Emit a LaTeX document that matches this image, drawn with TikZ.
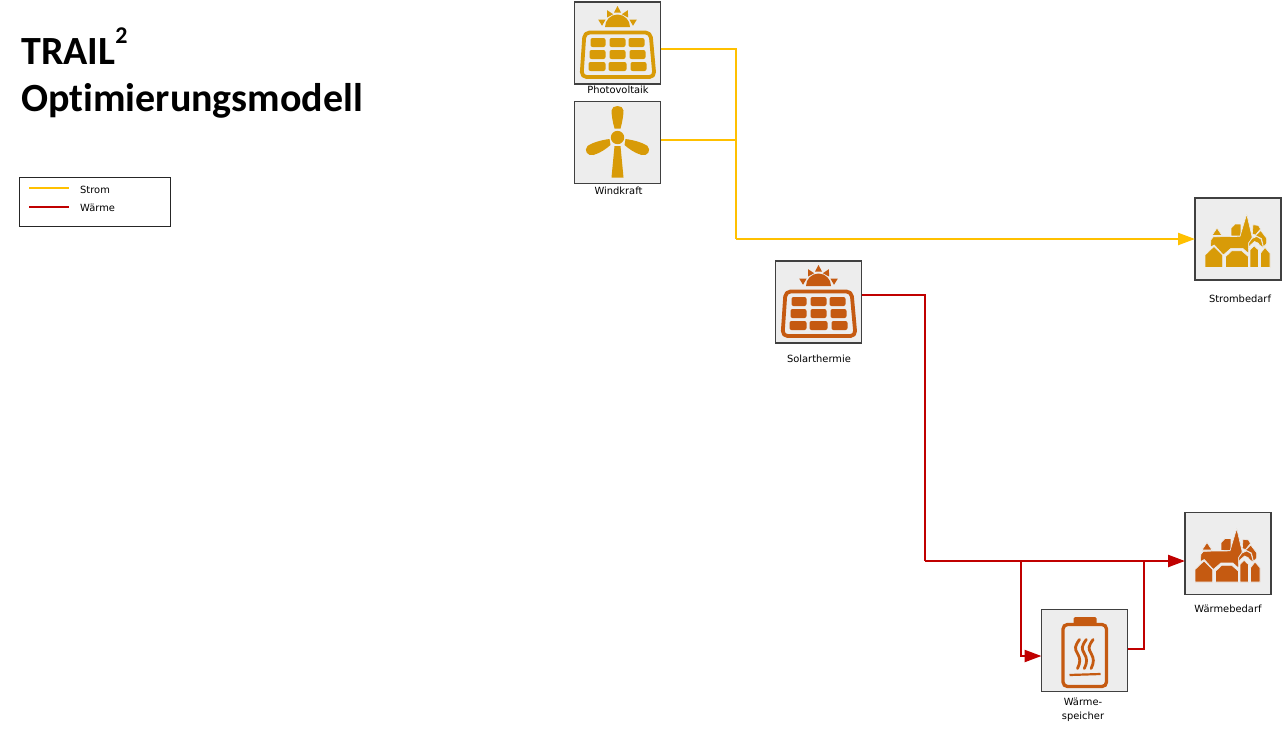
\documentclass[tikz,border=0pt]{standalone}
\usepackage{fontspec}
\setmainfont{Carlito}[Ligatures=NoCommon]
\newfontfamily\lblfont{DejaVu Sans}
\usetikzlibrary{arrows.meta}
\definecolor{gold}{HTML}{D89B08}
\definecolor{rust}{HTML}{C55A11}
\definecolor{boxbg}{HTML}{EDEDED}
\definecolor{boxline}{HTML}{404040}
\definecolor{strom}{HTML}{FFC000}
\definecolor{waerme}{HTML}{C00000}
\tikzset{
  iconbox/.style={draw=boxline,line width=1.6pt,fill=boxbg,minimum width=86pt,minimum height=82pt,inner sep=0pt,outer sep=0pt},
  lbl/.style={font=\lblfont\fontsize{9.9}{14}\selectfont,inner sep=0pt,align=center,text=black},
  titletxt/.style={font=\fontsize{40}{42}\selectfont\bfseries,anchor=base west,inner sep=0pt},
  legtxt/.style={font=\lblfont\fontsize{9.9}{12}\selectfont,anchor=west,inner sep=0pt,text=black},
  strline/.style={draw=strom,line width=2.3pt},
  heatline/.style={draw=waerme,line width=2.3pt},
  tip/.style={-{Triangle[length=17pt,width=12pt]}},
  panel/.pic={
    \fill[#1] (30.5,25) arc[start angle=180,end angle=360,radius=12.5] -- cycle;
    \foreach \a/\b/\c in {43/5/0,33/9/-28,53/9/28,24.5/18/-60,61.5/18/60}
      \fill[#1,rotate around={-\c:(\a,\b)}] (\a,\b) ++(0,-1) -- ++(3.5,6.5) -- ++(-7,0) -- cycle;
    \draw[#1,line width=3.8pt,rounded corners=5pt,line join=round] (10,30.5) -- (76,30.5) -- (80,75) -- (7,75) -- cycle;
    \foreach \xa/\xb/\ya/\yb in {16/31/36/45,35/51/36/45,54/70/36/45,15/31/48/57,35/51/48/57,55/71/48/57,14/31/60/69,34/52/60/69,56/72/60/69}
      \fill[#1,rounded corners=2pt] (\xa,\ya) rectangle (\xb,\yb);
  },
  turbine/.pic={
    \fill[#1] (43,36) circle[radius=6.7];
    \fill[#1] (40,44.5) -- (46,44.5) -- (49,76) -- (37,76) -- cycle;
    \fill[#1] (40,27) .. controls (38,20) and (37,13) .. (37,9) .. controls (37,3) and (49,3) .. (49,9) .. controls (49,13) and (48,20) .. (46,27) -- cycle;
    \fill[#1] (35,37.5) .. controls (27,38.5) and (18,41) .. (13,44.5) .. controls (9,49) and (13,55) .. (19,53.5) .. controls (26,51.5) and (32,47) .. (36,43.5) -- cycle;
    \fill[#1] (51,37.5) .. controls (59,38.5) and (68,41) .. (73,44.5) .. controls (77,49) and (73,55) .. (67,53.5) .. controls (60,51.5) and (54,47) .. (50,43.5) -- cycle;
  },
  village/.pic={
    \begin{scope}[fill=#1,draw=boxbg,line width=.6pt,line join=miter]
      \filldraw (17,37.5) -- (22,30) -- (27,37.5) -- cycle;
      \filldraw (36,38) -- (36,30.3) -- (40,26) -- (45.8,26) -- (45.8,38) -- cycle;
      \filldraw (58,26.7) -- (63.5,27.5) -- (65.5,31) -- (60.5,37) -- (57.3,36) -- cycle;
      \filldraw (65.7,32.5) -- (71.6,40.3) -- (71.6,45.5) -- (68.5,49) -- (66.5,40.5) -- (60.5,37.5) -- cycle;
      \filldraw (15.8,42) -- (18.3,38.8) -- (45,38.4) -- (51.7,16) -- (57,38.4) -- (57,40) -- (53.6,45) -- (53.6,55.6) -- (47.7,50.3) -- (36,50.3) -- (28.3,57) -- (19.3,47) -- (15.5,49) -- cycle;
      \filldraw (53.7,45) -- (57,40.5) -- (61.7,38.5) -- (66,41) -- (68.5,50) -- (64.5,47) -- (63,45) -- (59.5,43.5) -- (55.5,47) -- (53.7,50) -- cycle;
      \filldraw (10,69.5) -- (10,57) -- (19,48.4) -- (27.6,57) -- (27.6,69.5) -- cycle;
      \filldraw (30.5,69.5) -- (30.5,58.7) -- (36.7,52.8) -- (46.7,52.8) -- (53.5,58.7) -- (53.5,69.5) -- cycle;
      \filldraw (55,69.5) -- (55,52) -- (59,47.8) -- (63.5,52) -- (63.5,69.5) -- cycle;
      \filldraw (65.5,69.5) -- (65.5,55.3) -- (70,49.5) -- (75,55.3) -- (75,69.5) -- cycle;
    \end{scope}
  },
  heatstore/.pic={
    \fill[#1,rounded corners=1.5pt] (32,15) -- (32,7.5) -- (55,7.5) -- (55,15) -- cycle;
    \draw[#1,line width=3.3pt,rounded corners=4.5pt] (21.5,15) rectangle (65,77);
    \draw[#1,line width=2.2pt] (28,65.5) -- (59,64.5);
    \foreach \dx in {0,6.8,13.6}
      \draw[#1,line width=2.8pt,line cap=round,xshift=\dx pt] (38,30) .. controls (33,37) and (33,39) .. (36,44) .. controls (39,49) and (39,53) .. (36,59);
  },
}
\begin{document}
\begin{tikzpicture}[x=1pt,y=-1pt]
\useasboundingbox (0,0) rectangle (1284,731);
% title
\node[titletxt] (t1) at (21,64) {TRAIL\raisebox{20.5pt}{\fontsize{24}{26}\selectfont 2}};
\node[titletxt] (t2) at (21,111) {Optimierungsmodell};
% legend
\node[draw=black!85,line width=1pt,fill=white,minimum width=151pt,minimum height=49pt,inner sep=0pt] (leg) at (95,201.5) {};
\coordinate (ls1) at (29,188); \coordinate (le1) at (69,188);
\coordinate (ls2) at (29,207); \coordinate (le2) at (69,207);
\draw[strline] (ls1) -- (le1);
\draw[heatline] (ls2) -- (le2);
\node[legtxt] (ltxt1) at (80,190) {Strom};
\node[legtxt] (ltxt2) at (80,208) {Wärme};
% boxes
\node[iconbox] (pv) at (617.5,43) {};
\node[iconbox] (wind) at (617.5,142.5) {};
\node[iconbox] (solar) at (818.5,302) {};
\node[iconbox] (sbed) at (1238,239) {};
\node[iconbox] (wbed) at (1228,553.5) {};
\node[iconbox] (spei) at (1084.5,650.5) {};
\pic at (pv.north west) {panel=gold};
\pic at (wind.north west) {turbine=gold};
\pic at (solar.north west) {panel=rust};
\pic at (sbed.north west) {village=gold};
\pic at (wbed.north west) {village=rust};
\pic at (spei.north west) {heatstore=rust};
% labels
\node[lbl] (lpv) at (618,90) {Photovoltaik};
\node[lbl] (lwind) at (618.5,191) {Windkraft};
\node[lbl] (lsolar) at (819,359) {Solarthermie};
\node[lbl] (lsbed) at (1240,299) {Strombedarf};
\node[lbl] (lwbed) at (1228,609) {Wärmebedarf};
\node[lbl] (lspei) at (1083,710) {Wärme-\\speicher};
% connectors
\coordinate (jy) at (736,140);
\coordinate (jb) at (736,239);
\coordinate (hc) at (925,295);
\coordinate (hd) at (925,561);
\coordinate (bi) at (1021,561);
\coordinate (bo) at (1144,561);
\draw[strline,line join=miter] ([yshift=-6pt]pv.east) -| (jb);
\draw[strline] ([yshift=2.5pt]wind.east) -- (jy);
\draw[strline,tip] (jb) -- (sbed.west);
\draw[heatline] (solar.east |- hc) -- (hc) -- (hd);
\draw[heatline,tip] (hd) -- ([yshift=-7.5pt]wbed.west);
\draw[heatline,tip] (bi) |- ([yshift=-5.5pt]spei.west);
\draw[heatline] ([yshift=1.5pt]spei.east) -| (bo);
\end{tikzpicture}
\end{document}
